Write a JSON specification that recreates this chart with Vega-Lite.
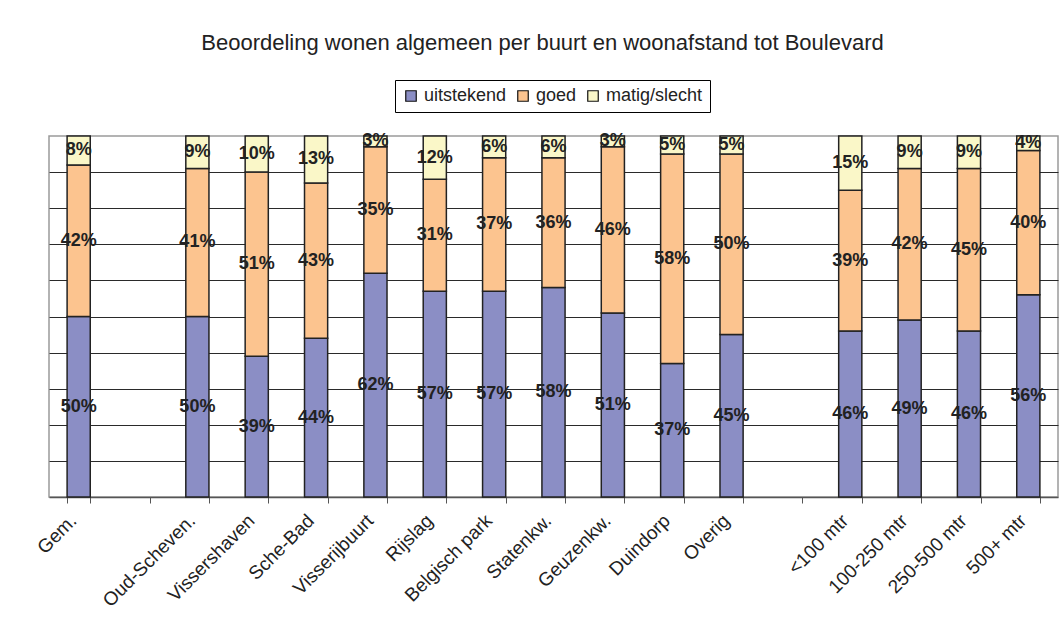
{
  "$schema": "https://vega.github.io/schema/vega-lite/v6.json",
  "width": 1009,
  "height": 361,
  "autosize": {"type": "none"},
  "padding": {"left": 49, "top": 136, "right": 6, "bottom": 144},
  "background": "white",
  "config": {
    "font": "Liberation Sans",
    "view": {"stroke": "#9a9a9a", "strokeWidth": 1.5}
  },
  "title": {
    "text": "Beoordeling wonen algemeen per buurt en woonafstand tot Boulevard",
    "fontSize": 22,
    "fontWeight": "normal",
    "color": "#222222",
    "anchor": "middle",
    "frame": "group",
    "dx": -11,
    "offset": 25
  },
  "data": {
    "values": [
      {"buurt": "Gem.", "oordeel": "uitstekend", "k": 0, "pct": 0.50},
      {"buurt": "Gem.", "oordeel": "goed", "k": 1, "pct": 0.42},
      {"buurt": "Gem.", "oordeel": "matig/slecht", "k": 2, "pct": 0.08},
      {"buurt": "Oud-Scheven.", "oordeel": "uitstekend", "k": 0, "pct": 0.50},
      {"buurt": "Oud-Scheven.", "oordeel": "goed", "k": 1, "pct": 0.41},
      {"buurt": "Oud-Scheven.", "oordeel": "matig/slecht", "k": 2, "pct": 0.09},
      {"buurt": "Vissershaven", "oordeel": "uitstekend", "k": 0, "pct": 0.39},
      {"buurt": "Vissershaven", "oordeel": "goed", "k": 1, "pct": 0.51},
      {"buurt": "Vissershaven", "oordeel": "matig/slecht", "k": 2, "pct": 0.10},
      {"buurt": "Sche-Bad", "oordeel": "uitstekend", "k": 0, "pct": 0.44},
      {"buurt": "Sche-Bad", "oordeel": "goed", "k": 1, "pct": 0.43},
      {"buurt": "Sche-Bad", "oordeel": "matig/slecht", "k": 2, "pct": 0.13},
      {"buurt": "Visserijbuurt", "oordeel": "uitstekend", "k": 0, "pct": 0.62},
      {"buurt": "Visserijbuurt", "oordeel": "goed", "k": 1, "pct": 0.35},
      {"buurt": "Visserijbuurt", "oordeel": "matig/slecht", "k": 2, "pct": 0.03},
      {"buurt": "Rijslag", "oordeel": "uitstekend", "k": 0, "pct": 0.57},
      {"buurt": "Rijslag", "oordeel": "goed", "k": 1, "pct": 0.31},
      {"buurt": "Rijslag", "oordeel": "matig/slecht", "k": 2, "pct": 0.12},
      {"buurt": "Belgisch park", "oordeel": "uitstekend", "k": 0, "pct": 0.57},
      {"buurt": "Belgisch park", "oordeel": "goed", "k": 1, "pct": 0.37},
      {"buurt": "Belgisch park", "oordeel": "matig/slecht", "k": 2, "pct": 0.06},
      {"buurt": "Statenkw.", "oordeel": "uitstekend", "k": 0, "pct": 0.58},
      {"buurt": "Statenkw.", "oordeel": "goed", "k": 1, "pct": 0.36},
      {"buurt": "Statenkw.", "oordeel": "matig/slecht", "k": 2, "pct": 0.06},
      {"buurt": "Geuzenkw.", "oordeel": "uitstekend", "k": 0, "pct": 0.51},
      {"buurt": "Geuzenkw.", "oordeel": "goed", "k": 1, "pct": 0.46},
      {"buurt": "Geuzenkw.", "oordeel": "matig/slecht", "k": 2, "pct": 0.03},
      {"buurt": "Duindorp", "oordeel": "uitstekend", "k": 0, "pct": 0.37},
      {"buurt": "Duindorp", "oordeel": "goed", "k": 1, "pct": 0.58},
      {"buurt": "Duindorp", "oordeel": "matig/slecht", "k": 2, "pct": 0.05},
      {"buurt": "Overig", "oordeel": "uitstekend", "k": 0, "pct": 0.45},
      {"buurt": "Overig", "oordeel": "goed", "k": 1, "pct": 0.50},
      {"buurt": "Overig", "oordeel": "matig/slecht", "k": 2, "pct": 0.05},
      {"buurt": "<100 mtr", "oordeel": "uitstekend", "k": 0, "pct": 0.46},
      {"buurt": "<100 mtr", "oordeel": "goed", "k": 1, "pct": 0.39},
      {"buurt": "<100 mtr", "oordeel": "matig/slecht", "k": 2, "pct": 0.15},
      {"buurt": "100-250 mtr", "oordeel": "uitstekend", "k": 0, "pct": 0.49},
      {"buurt": "100-250 mtr", "oordeel": "goed", "k": 1, "pct": 0.42},
      {"buurt": "100-250 mtr", "oordeel": "matig/slecht", "k": 2, "pct": 0.09},
      {"buurt": "250-500 mtr", "oordeel": "uitstekend", "k": 0, "pct": 0.46},
      {"buurt": "250-500 mtr", "oordeel": "goed", "k": 1, "pct": 0.45},
      {"buurt": "250-500 mtr", "oordeel": "matig/slecht", "k": 2, "pct": 0.09},
      {"buurt": "500+ mtr", "oordeel": "uitstekend", "k": 0, "pct": 0.56},
      {"buurt": "500+ mtr", "oordeel": "goed", "k": 1, "pct": 0.40},
      {"buurt": "500+ mtr", "oordeel": "matig/slecht", "k": 2, "pct": 0.04}
    ]
  },
  "transform": [
    {"stack": "pct", "groupby": ["buurt"], "sort": [{"field": "k", "order": "ascending"}], "as": ["y0", "y1"]},
    {"calculate": "(datum.y0 + datum.y1) / 2", "as": "ymid"}
  ],
  "encoding": {
    "x": {
      "field": "buurt",
      "type": "nominal",
      "sort": null,
      "scale": {
        "domain": ["Gem.", " ", "Oud-Scheven.", "Vissershaven", "Sche-Bad", "Visserijbuurt", "Rijslag", "Belgisch park", "Statenkw.", "Geuzenkw.", "Duindorp", "Overig", "  ", "<100 mtr", "100-250 mtr", "250-500 mtr", "500+ mtr"],
        "paddingInner": 0.61,
        "paddingOuter": 0.305
      },
      "axis": {
        "title": null,
        "labelAngle": -45,
        "labelFontSize": 19,
        "labelColor": "#222222",
        "labelPadding": 8,
        "labelOffset": -12,
        "labelOverlap": false,
        "tickBand": "extent",
        "tickSize": 6,
        "tickColor": "#555555",
        "domainColor": "#555555",
        "domainWidth": 1.5,
        "grid": false
      }
    }
  },
  "layer": [
    {
      "mark": {"type": "bar", "stroke": "#222222", "strokeWidth": 1.5},
      "encoding": {
        "y": {
          "field": "y0",
          "type": "quantitative",
          "scale": {"domain": [0, 1], "nice": false},
          "axis": {
            "title": null,
            "labels": false,
            "ticks": false,
            "domain": false,
            "grid": true,
            "gridColor": "#2a2a2a",
            "gridWidth": 1,
            "values": [0.1, 0.2, 0.3, 0.4, 0.5, 0.6, 0.7, 0.8, 0.9]
          }
        },
        "y2": {"field": "y1"},
        "color": {
          "field": "oordeel",
          "type": "nominal",
          "scale": {
            "domain": ["uitstekend", "goed", "matig/slecht"],
            "range": ["#8b8ec5", "#fcc48f", "#faf7c8"]
          },
          "legend": {
            "title": null,
            "orient": "none",
            "direction": "horizontal",
            "legendX": 346,
            "legendY": -56,
            "padding": 7,
            "strokeColor": "#000000",
            "fillColor": "#ffffff",
            "symbolType": "square",
            "symbolSize": 110,
            "symbolStrokeColor": "#111111",
            "symbolStrokeWidth": 1.2,
            "labelFontSize": 18,
            "labelColor": "#222222",
            "labelOffset": 4,
            "columnPadding": 7
          }
        }
      }
    },
    {
      "mark": {"type": "text", "fontSize": 18, "fontWeight": "bold", "color": "#222222", "baseline": "middle"},
      "encoding": {
        "y": {"field": "ymid", "type": "quantitative"},
        "text": {"field": "pct", "type": "quantitative", "format": ".0%"}
      }
    }
  ]
}
